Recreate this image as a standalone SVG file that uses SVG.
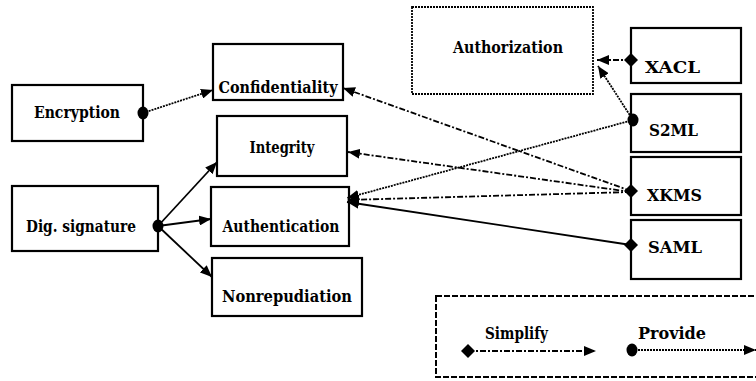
<svg xmlns="http://www.w3.org/2000/svg" width="756" height="381" viewBox="0 0 756 381">
<defs>
<style>
.box{fill:#fff;stroke:#000;stroke-width:2.2}
.dbox{fill:#fff;stroke:#000;stroke-width:1.8;stroke-dasharray:2 1}
.legend{fill:#fff;stroke:#000;stroke-width:2;stroke-dasharray:6 2}
text{font-family:'DejaVu Serif','Liberation Serif',serif;font-size:16.5px;font-weight:bold;fill:#000}
.t{text-anchor:middle}
.solid{fill:none;stroke:#000;stroke-width:1.8}
.dot{fill:none;stroke:#000;stroke-width:1.8;stroke-dasharray:2 1}
.dd{fill:none;stroke:#000;stroke-width:1.8;stroke-dasharray:6 2 2 2}
</style>
<marker id="arrow" viewBox="0 0 12 10" refX="12" refY="5" markerWidth="12" markerHeight="10" markerUnits="userSpaceOnUse" orient="auto">
<path d="M0,0 L12,5 L0,10 Z" fill="#000"/>
</marker>
<marker id="ball" viewBox="-7 -7 14 14" refX="0" refY="0" markerWidth="14" markerHeight="14" markerUnits="userSpaceOnUse" orient="0">
<ellipse cx="0" cy="0" rx="5.5" ry="6.5" fill="#000"/>
</marker>
<marker id="diamond" viewBox="-8 -8 16 16" refX="0" refY="0" markerWidth="16" markerHeight="16" markerUnits="userSpaceOnUse" orient="0">
<path d="M-7,0 L0,-7 L7,0 L0,7 Z" fill="#000"/>
</marker>
</defs>
<rect width="756" height="381" fill="#fff"/>

<g id="legend">
<rect class="legend" x="436" y="296" width="330" height="81"/>
<text x="485" y="339" textLength="63" lengthAdjust="spacingAndGlyphs">Simplify</text>
<text x="638" y="339" textLength="68" lengthAdjust="spacingAndGlyphs">Provide</text>
<line class="dd" x1="468" y1="351" x2="596" y2="351" marker-start="url(#diamond)" marker-end="url(#arrow)"/>
<line class="dot" x1="632" y1="350" x2="756" y2="350" marker-start="url(#ball)" marker-end="url(#arrow)"/>
</g>

<g id="encryption">
<rect class="box" x="12" y="85" width="131" height="56"/>
<text class="t" x="77" y="118" textLength="86" lengthAdjust="spacingAndGlyphs">Encryption</text>
</g>
<g id="confidentiality">
<rect class="box" x="213" y="44" width="130" height="56"/>
<text class="t" x="278" y="93" textLength="119" lengthAdjust="spacingAndGlyphs">Confidentiality</text>
</g>
<g id="integrity">
<rect class="box" x="217" y="116" width="130" height="60"/>
<text class="t" x="282" y="153" textLength="65" lengthAdjust="spacingAndGlyphs">Integrity</text>
</g>
<g id="dig-signature">
<rect class="box" x="12" y="186" width="146" height="65"/>
<text class="t" x="81" y="232" textLength="110" lengthAdjust="spacingAndGlyphs">Dig. signature</text>
</g>
<g id="authentication">
<rect class="box" x="211" y="187" width="138" height="59"/>
<text class="t" x="281" y="232" textLength="117" lengthAdjust="spacingAndGlyphs">Authentication</text>
</g>
<g id="nonrepudiation">
<rect class="box" x="212" y="258" width="150" height="58"/>
<text class="t" x="287" y="302" textLength="130" lengthAdjust="spacingAndGlyphs">Nonrepudiation</text>
</g>
<g id="authorization">
<rect class="dbox" x="412" y="7" width="181" height="87"/>
<text class="t" x="508" y="53" textLength="110" lengthAdjust="spacingAndGlyphs">Authorization</text>
</g>
<g id="xacl">
<rect class="box" x="631" y="28" width="110" height="55"/>
<text x="645" y="73" textLength="55" lengthAdjust="spacingAndGlyphs">XACL</text>
</g>
<g id="s2ml">
<rect class="box" x="631" y="94" width="110" height="58"/>
<text x="649" y="136" textLength="49" lengthAdjust="spacingAndGlyphs">S2ML</text>
</g>
<g id="xkms">
<rect class="box" x="631" y="157" width="110" height="58"/>
<text x="647" y="201" textLength="55" lengthAdjust="spacingAndGlyphs">XKMS</text>
</g>
<g id="saml">
<rect class="box" x="631" y="220" width="110" height="59"/>
<text x="648" y="253" textLength="54" lengthAdjust="spacingAndGlyphs">SAML</text>
</g>

<g id="connectors">
<line class="dot" x1="143" y1="113" x2="213" y2="90" marker-start="url(#ball)" marker-end="url(#arrow)"/>
<line class="solid" x1="158" y1="226" x2="217" y2="162" marker-start="url(#ball)" marker-end="url(#arrow)"/>
<line class="solid" x1="158" y1="226" x2="211" y2="219" marker-end="url(#arrow)"/>
<line class="solid" x1="158" y1="226" x2="212" y2="277" marker-end="url(#arrow)"/>
<line class="dd" x1="631" y1="60" x2="597" y2="60" marker-start="url(#diamond)" marker-end="url(#arrow)"/>
<line class="dot" x1="633" y1="120" x2="598" y2="66" marker-start="url(#ball)" marker-end="url(#arrow)"/>
<line class="dot" x1="633" y1="120" x2="347" y2="198" marker-end="url(#arrow)"/>
<line class="dd" x1="631" y1="191" x2="343" y2="88" marker-start="url(#diamond)" marker-end="url(#arrow)"/>
<line class="dd" x1="631" y1="192" x2="348" y2="152" marker-end="url(#arrow)"/>
<line class="dd" x1="631" y1="192" x2="347" y2="200" marker-end="url(#arrow)"/>
<line class="solid" x1="631" y1="245" x2="347" y2="202" marker-start="url(#diamond)" marker-end="url(#arrow)"/>
</g>
</svg>
